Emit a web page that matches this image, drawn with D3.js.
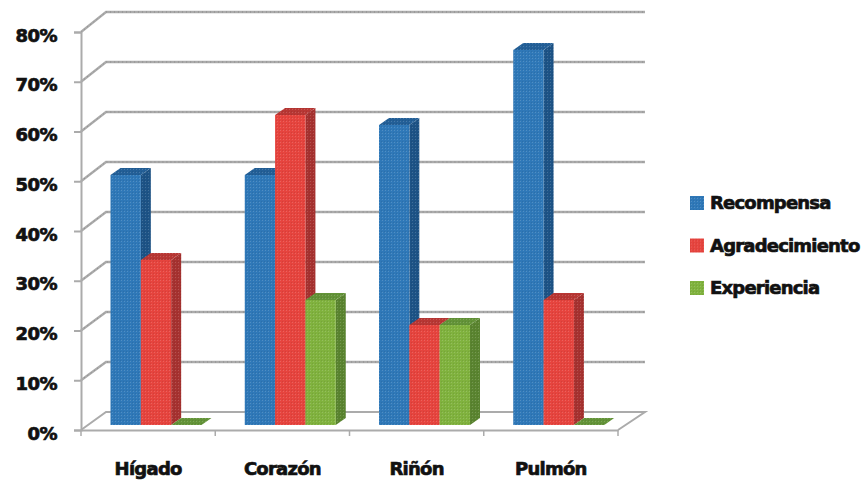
<!DOCTYPE html>
<html lang="es">
<head>
<meta charset="utf-8">
<script src="https://cdn.jsdelivr.net/npm/d3@7"></script>
<style>
  html, body { margin: 0; background: #fff; }
  svg { display: block; }
  text { font-family: "DejaVu Sans", sans-serif; font-weight: bold; fill: #111; stroke: #111; stroke-width: 0.7px; }
</style>
</head>
<body>
<svg id="chart" width="868" height="482"></svg>
<script>
// Organ categories, survey series and axis ticks
const categories = ["Hígado", "Corazón", "Riñón", "Pulmón"];
const seriesNames = ["Recompensa", "Agradecimiento", "Experiencia"];
const recompensa = [0.50, 0.50, 0.60, 0.75];
const agradecimiento = [0.33, 0.62, 0.20, 0.25];
const experiencia = [0, 0.25, 0.20, 0];
const yTicks = [0, 0.1, 0.2, 0.3, 0.4, 0.5, 0.6, 0.7, 0.8];
const seriesValues = [recompensa, agradecimiento, experiencia];

const faceColors = ["#2f78b8", "#e6443e", "#80b23e"];
const sideColors = ["#1d5386", "#a63230", "#5a8430"];
const topColors = ["#235f97", "#b83734", "#639338"];

const svg = d3.select("#chart");
const defs = svg.append("defs");

// Fine halftone texture on the bar faces
faceColors.forEach((c, i) => {
  [["face", c], ["side", sideColors[i]], ["top", topColors[i]]].forEach(([kind, col]) => {
    const p = defs.append("pattern")
      .attr("id", `${kind}-${i}`)
      .attr("width", 3).attr("height", 3)
      .attr("patternUnits", "userSpaceOnUse");
    p.append("rect").attr("width", 3).attr("height", 3).attr("fill", col);
    p.append("rect").attr("x", 1).attr("y", 1).attr("width", 1).attr("height", 1)
      .attr("fill", "#fff").attr("opacity", 0.16);
    p.append("rect").attr("x", 0).attr("y", 0).attr("width", 1).attr("height", 1)
      .attr("fill", "#000").attr("opacity", 0.08);
  });
});

// Scales: front plane of the axes, back wall, and the plane the bars stand on
const x = d3.scaleBand().domain(categories).range([81, 618]);
const yFront = d3.scaleLinear().domain([0, 0.8]).range([430, 32]);
const yBack = d3.scaleLinear().domain([0, 0.8]).range([412, 12]);
const yBar = d3.scaleLinear().domain([0, 0.8]).range([425, 25]);
const inner = d3.scaleBand().domain(seriesNames).range([0, 91]);

const wallDx = 25;
const wallRight = 645;
const depthX = 10;
const depthY = -7;
const groupInset = 29.5;

const gridColor = "#ababab";

// Wall gridlines with their slanted return along the left side
const grid = svg.append("g").attr("fill", "none");
const gridPath = v => `M${x.range()[0]},${yFront(v)}L${x.range()[0] + wallDx},${yBack(v)}L${wallRight},${yBack(v)}`;
grid.selectAll("path.base").data(yTicks.slice(1)).join("path")
  .attr("class", "base")
  .attr("d", gridPath)
  .attr("stroke", gridColor).attr("stroke-width", 2.4);
grid.selectAll("path.dots").data(yTicks.slice(1)).join("path")
  .attr("class", "dots")
  .attr("d", gridPath)
  .attr("stroke", "#8a8a8a").attr("stroke-width", 1).attr("stroke-dasharray", "1 3");

// Floor outline
const floor = svg.append("g").attr("fill", "none").attr("stroke", gridColor).attr("stroke-width", 2);
floor.append("path")
  .attr("d", `M${x.range()[0]},${yFront(0)}L${x.range()[0] + wallDx},${yBack(0)}L${wallRight},${yBack(0)}L${x.range()[1]},${yFront(0)}`);

// Front axes
const yAxis = svg.append("g")
  .attr("transform", `translate(${x.range()[0]},0)`)
  .call(d3.axisLeft(yFront).tickValues(yTicks).tickFormat(d3.format(".0%")).tickSize(7).tickPadding(17));
yAxis.selectAll(".domain, line").attr("stroke", gridColor).attr("stroke-width", 2);
yAxis.selectAll("text")
  .attr("dy", "0.5em")
  .style("font-size", "18px").style("letter-spacing", "-0.5px");

const xAxis = svg.append("g")
  .attr("transform", `translate(0,${yFront(0)})`)
  .call(d3.axisBottom(x).tickValues(categories).tickSize(0).tickPadding(32));
xAxis.select(".domain").attr("stroke", gridColor).attr("stroke-width", 2);
xAxis.selectAll("text")
  .style("font-size", "18px").style("letter-spacing", "-0.75px");

// Tick marks on the category axis, at each band boundary
svg.append("g").selectAll("line")
  .data(categories.map(c => x(c)).concat(x.range()[1]))
  .join("line")
  .attr("x1", d => d).attr("x2", d => d)
  .attr("y1", yFront(0)).attr("y2", yFront(0) + 6)
  .attr("stroke", gridColor).attr("stroke-width", 1.5);

// Extruded bars, painted left to right so each face overlaps the previous side
const bars = svg.append("g");
categories.forEach((cat, ci) => {
  seriesNames.forEach((name, si) => {
    const v = seriesValues[si][ci];
    const x0 = x(cat) + groupInset + inner(name);
    const x1 = x0 + inner.bandwidth();
    const yT = yBar(v);
    const yB = yBar(0);
    const g = bars.append("g");
    g.append("path")
      .attr("d", `M${x1},${yT}L${x1 + depthX},${yT + depthY}L${x1 + depthX},${yB + depthY}L${x1},${yB}Z`)
      .attr("fill", `url(#side-${si})`);
    g.append("path")
      .attr("d", `M${x0},${yT}L${x0 + depthX},${yT + depthY}L${x1 + depthX},${yT + depthY}L${x1},${yT}Z`)
      .attr("fill", `url(#top-${si})`);
    g.append("rect")
      .attr("x", x0).attr("y", yT)
      .attr("width", inner.bandwidth()).attr("height", yB - yT)
      .attr("fill", `url(#face-${si})`);
  });
});

// Legend
const legendY = d3.scalePoint().domain(seriesNames).range([203, 288]);
const legend = svg.append("g").selectAll("g").data(seriesNames).join("g")
  .attr("transform", d => `translate(0,${legendY(d)})`);
legend.append("rect")
  .attr("x", 690).attr("y", -7).attr("width", 14).attr("height", 14)
  .attr("fill", (d, i) => `url(#face-${i})`);
legend.append("text")
  .attr("x", 710).attr("dy", "0.36em")
  .style("font-size", "18px").style("letter-spacing", "-0.8px")
  .text(d => d);
</script>
</body>
</html>
